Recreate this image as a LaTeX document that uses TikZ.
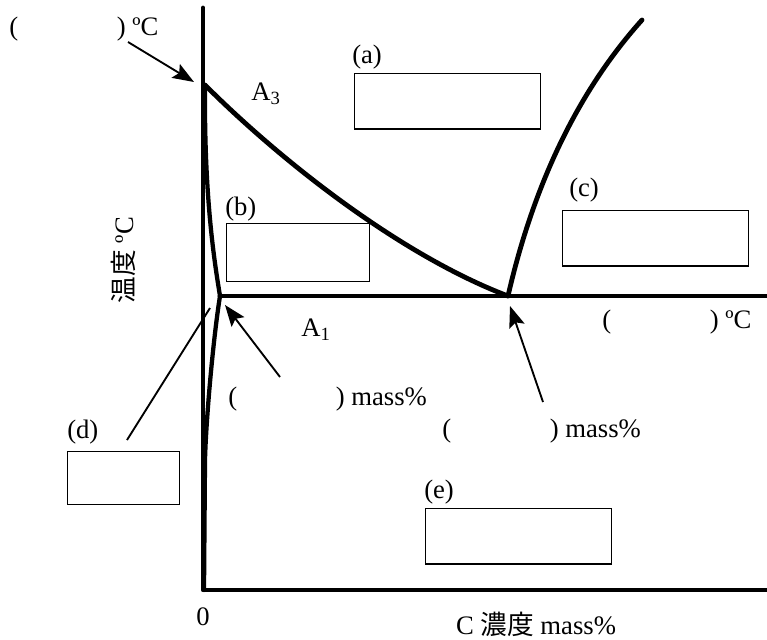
\documentclass[tikz,border=0pt]{standalone}
\usepackage{fontspec}
\setmainfont{Liberation Serif}
\newfontfamily\cjk{Noto Sans CJK JP}
\usetikzlibrary{arrows.meta}
\newcommand{\gapfill}{\hspace{74pt}}

\begin{document}
\begin{tikzpicture}[x=0.75pt,y=-0.75pt,>={Stealth[length=16pt,width=12pt,inset=3pt]},
  phase/.style={line width=3.6pt,line join=round,line cap=round},
  ansbox/.style={draw,line width=1pt,inner sep=0pt,anchor=north west,minimum width=139.5pt,minimum height=41.5pt},
  lbl/.style={inner sep=0pt,anchor=base west,font=\fontsize{20}{23}\selectfont},
  ptr/.style={line width=1.4pt}]
\useasboundingbox (0,0) rectangle (767,639);
% key points of the diagram
\coordinate (a3)  at (205,85);
\coordinate (eut) at (508,296);
\coordinate (pa1) at (220,296);
\coordinate (acm) at (642,20);
\coordinate (ferr) at (210,308);
% axes and phase lines
\draw[phase] (203,8) -- (203,590) -- (767,590);
\draw[phase] (a3) .. controls (280,160) and (400,255) .. (eut);
\draw[phase] (eut) .. controls (530,200) and (570,100) .. (acm);
\draw[phase] (pa1) -- (767,296);
\draw[phase,line width=3.2pt] (a3) .. controls (204,200) and (215,265) .. (pa1);
\draw[phase,line width=3.2pt] (pa1) .. controls (213,340) and (206,420) .. (205,460) -- (204,590);
% answer boxes
\node[ansbox] (boxa) at (354,73) {};
\node[ansbox,minimum width=107.25pt,minimum height=43.5pt] (boxb) at (226,223) {};
\node[ansbox] (boxc) at (562,210) {};
\node[ansbox,minimum width=84pt,minimum height=39.75pt] (boxd) at (67,451) {};
\node[ansbox] (boxe) at (425,508) {};
\node[lbl] (la) at (352,63)  {(a)};
\node[lbl] (lb) at (225,215) {(b)};
\node[lbl] (lc) at (569,196) {(c)};
\node[lbl] (ld) at (67,438)  {(d)};
\node[lbl] (le) at (424,498) {(e)};
% point labels
\node[lbl] (ta3) at (251,100) {A\textsubscript{3}};
\node[lbl] (ta1) at (301,336) {A\textsubscript{1}};
\node[lbl] (tmp1) at (9,35)   {(\gapfill) ºC};
\node[lbl] (tmp2) at (602,328) {(\gapfill) ºC};
\node[lbl] (cc1) at (228,405) {(\gapfill) mass\%};
\node[lbl] (cc2) at (442,437) {(\gapfill) mass\%};
% axis labels
\node[lbl,anchor=base] (zero) at (203,625) {0};
\node[lbl,anchor=base] (xlab) at (536,634) {C {\cjk 濃度} mass\%};
\node[lbl,anchor=center,rotate=90] (ylab) at (123,260) {{\cjk 温度} ºC};
% pointers
\coordinate (t1) at (128,42);
\coordinate (t2) at (280,377);
\coordinate (t3) at (543,402);
\coordinate (t4) at (127,440);
\draw[ptr,->] (t1) -- (194,82);
\draw[ptr,->] (t2) -- (225,305);
\draw[ptr,->] (t3) -- (510,306);
\draw[ptr] (t4) -- (ferr);
\end{tikzpicture}
\end{document}
